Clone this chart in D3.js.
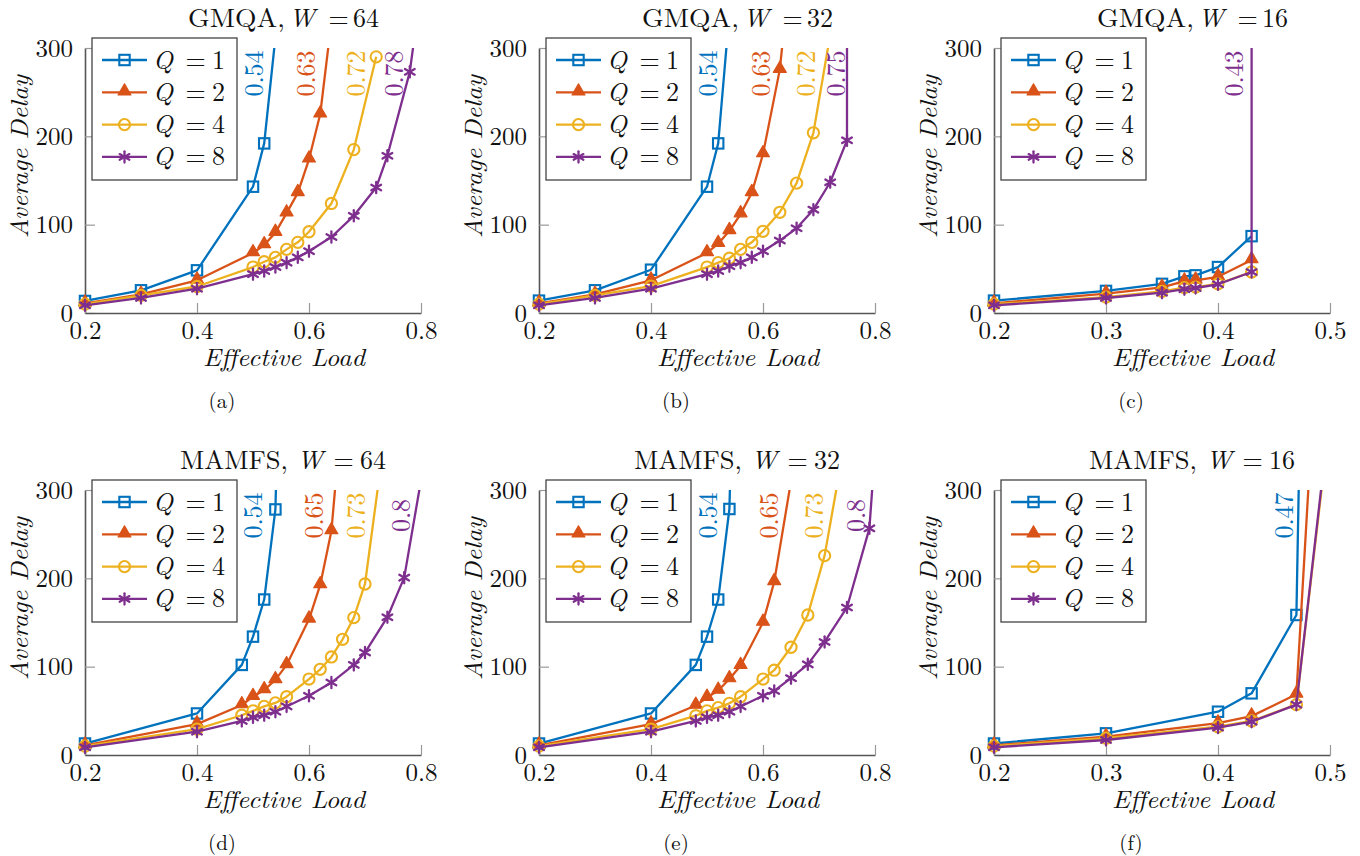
<!DOCTYPE html>
<html><head><meta charset="utf-8">
<script src="https://cdn.jsdelivr.net/npm/d3@7"></script>
<style>body{margin:0;background:#fff}svg{display:block}</style>
</head><body>
<svg id="c" width="1360" height="856"></svg>
<script>
// ---------------- DATA ----------------
const qValues = ["1", "2", "4", "8"];
const yTickValues = [0, 100, 200, 300];
const xTicksWide = [0.2, 0.4, 0.6, 0.8];
const xTicksNarrow = [0.2, 0.3, 0.4, 0.5];

// (a) GMQA, W = 64
const gmqa64_q1 = [[0.2,13.6],[0.3,25.7],[0.4,48.3],[0.5,143],[0.52,192],[0.54,312]];
const gmqa64_q2 = [[0.2,11],[0.3,21],[0.4,37],[0.5,68],[0.52,77],[0.54,91],[0.56,113],[0.58,136],[0.6,174],[0.62,225],[0.64,330]];
const gmqa64_q4 = [[0.2,10],[0.3,20],[0.4,30],[0.5,52],[0.52,58],[0.54,63],[0.56,72],[0.58,80],[0.6,92],[0.64,124],[0.68,185],[0.72,290]];
const gmqa64_q8 = [[0.2,8.7],[0.3,17],[0.4,27.5],[0.5,44],[0.52,47.5],[0.54,52],[0.56,57],[0.58,63],[0.6,70],[0.64,86],[0.68,110],[0.72,142],[0.74,178],[0.78,273],[0.79,320]];
const gmqa64_limits = ["0.54", "0.63", "0.72", "0.78"];
const gmqa64_limitX = [0.518, 0.611, 0.700, 0.768];

// (b) GMQA, W = 32
const gmqa32_q1 = [[0.2,14],[0.3,25.7],[0.4,49],[0.5,143],[0.52,192],[0.54,340]];
const gmqa32_q2 = [[0.2,11],[0.3,21],[0.4,37],[0.5,68],[0.52,78.5],[0.54,93],[0.56,112],[0.58,136],[0.6,180],[0.63,275.5],[0.64,337]];
const gmqa32_q4 = [[0.2,10],[0.3,20],[0.4,30.5],[0.5,52],[0.52,57],[0.54,62],[0.56,72],[0.58,80],[0.6,92.5],[0.63,114],[0.66,147],[0.69,204],[0.72,315]];
const gmqa32_q8 = [[0.2,8.7],[0.3,17],[0.4,27.5],[0.5,44],[0.52,47.5],[0.54,53],[0.56,57],[0.58,63],[0.6,70],[0.63,82],[0.66,96],[0.69,117],[0.72,148],[0.75,195.5],[0.75,400]];
const gmqa32_limits = ["0.54", "0.63", "0.72", "0.75"];
const gmqa32_limitX = [0.518, 0.6125, 0.693, 0.746];

// (c) GMQA, W = 16
const gmqa16_q1 = [[0.2,14],[0.3,25],[0.35,33],[0.37,41.5],[0.38,42.6],[0.4,52],[0.43,87]];
const gmqa16_q2 = [[0.2,11],[0.3,22],[0.35,29],[0.37,36],[0.38,37],[0.4,41],[0.43,60]];
const gmqa16_q4 = [[0.2,10],[0.3,18],[0.35,24.5],[0.37,28.7],[0.38,29.4],[0.4,33],[0.43,46.4]];
const gmqa16_q8 = [[0.2,8.7],[0.3,17],[0.35,23],[0.37,27],[0.38,28.3],[0.4,32.5],[0.43,46.4],[0.43,400]];
const gmqa16_limits = ["", "", "", "0.43"];
const gmqa16_limitX = [0, 0, 0, 0.4223];

// (d) MAMFS, W = 64
const mamfs64_q1 = [[0.2,13],[0.4,47],[0.48,102],[0.5,134],[0.52,176],[0.54,278],[0.545,400]];
const mamfs64_q2 = [[0.2,11],[0.4,35],[0.48,56.6],[0.5,66],[0.52,73.6],[0.54,85],[0.56,102],[0.6,153.6],[0.62,192.5],[0.64,253.6],[0.65,326]];
const mamfs64_q4 = [[0.2,10],[0.4,29.4],[0.48,45],[0.5,50],[0.52,55],[0.54,59],[0.56,66],[0.6,86],[0.62,97],[0.64,111],[0.66,131],[0.68,155.5],[0.7,193.6],[0.73,336]];
const mamfs64_q8 = [[0.2,8.7],[0.4,26.4],[0.48,38.5],[0.5,42.6],[0.52,45],[0.54,49],[0.56,55],[0.6,67],[0.64,82],[0.68,102],[0.7,116],[0.74,156],[0.77,200.8],[0.8,311]];
const mamfs64_limits = ["0.54", "0.65", "0.73", "0.8"];
const mamfs64_limitX = [0.516, 0.625, 0.700, 0.780];

// (e) MAMFS, W = 32
const mamfs32_q1 = [[0.2,13],[0.4,47],[0.48,102],[0.5,134],[0.52,176],[0.54,278.5],[0.545,400]];
const mamfs32_q2 = [[0.2,11],[0.4,35],[0.48,56],[0.5,65],[0.52,73],[0.54,86],[0.56,101],[0.6,150],[0.62,196],[0.65,310]];
const mamfs32_q4 = [[0.2,10],[0.4,29.4],[0.48,44.5],[0.5,50],[0.52,53.6],[0.54,58.5],[0.56,66],[0.6,86],[0.62,96],[0.65,122],[0.68,158.5],[0.71,225.7],[0.735,315]];
const mamfs32_q8 = [[0.2,8.7],[0.4,26.4],[0.48,38.5],[0.5,42.6],[0.52,45],[0.54,49],[0.56,55],[0.6,67],[0.62,72.5],[0.65,87],[0.68,102.6],[0.71,128],[0.75,167],[0.79,256.6],[0.8,345]];
const mamfs32_limits = ["0.54", "0.65", "0.73", "0.8"];
const mamfs32_limitX = [0.518, 0.627, 0.707, 0.782];

// (f) MAMFS, W = 16
const mamfs16_q1 = [[0.2,13],[0.3,24.5],[0.4,49],[0.43,69.8],[0.47,158.5],[0.4735,400]];
const mamfs16_q2 = [[0.2,11],[0.3,20.8],[0.4,36],[0.43,44],[0.47,68.7],[0.482,330]];
const mamfs16_q4 = [[0.2,10],[0.3,19],[0.4,32],[0.43,38.5],[0.47,57],[0.4952,330]];
const mamfs16_q8 = [[0.2,8.7],[0.3,17],[0.4,31],[0.43,37.7],[0.47,57],[0.4947,330]];
const mamfs16_limits = ["0.47", "", "", ""];
const mamfs16_limitX = [0.4667, 0, 0, 0];

// ---------------- LAYOUT / STYLE ----------------
const colors = ["#0072BD", "#D95319", "#EDB120", "#7E2F8E"];
const markerTypes = ["square", "triangle", "circle", "asterisk"];
const FONT = "Latin Modern Roman";
const colLeft = [85, 539, 994];
const rowTop = [48, 490];
const PW = 336, PH = 265;
const LW = 2.3;

const panels = [
  {algo: "GMQA", w: "64", cap: "(a)", r: 0, c: 0, xmax: 0.8, xt: xTicksWide, s: [gmqa64_q1, gmqa64_q2, gmqa64_q4, gmqa64_q8], lab: gmqa64_limits, labX: gmqa64_limitX},
  {algo: "GMQA", w: "32", cap: "(b)", r: 0, c: 1, xmax: 0.8, xt: xTicksWide, s: [gmqa32_q1, gmqa32_q2, gmqa32_q4, gmqa32_q8], lab: gmqa32_limits, labX: gmqa32_limitX},
  {algo: "GMQA", w: "16", cap: "(c)", r: 0, c: 2, xmax: 0.5, xt: xTicksNarrow, s: [gmqa16_q1, gmqa16_q2, gmqa16_q4, gmqa16_q8], lab: gmqa16_limits, labX: gmqa16_limitX},
  {algo: "MAMFS", w: "64", cap: "(d)", r: 1, c: 0, xmax: 0.8, xt: xTicksWide, s: [mamfs64_q1, mamfs64_q2, mamfs64_q4, mamfs64_q8], lab: mamfs64_limits, labX: mamfs64_limitX},
  {algo: "MAMFS", w: "32", cap: "(e)", r: 1, c: 1, xmax: 0.8, xt: xTicksWide, s: [mamfs32_q1, mamfs32_q2, mamfs32_q4, mamfs32_q8], lab: mamfs32_limits, labX: mamfs32_limitX},
  {algo: "MAMFS", w: "16", cap: "(f)", r: 1, c: 2, xmax: 0.5, xt: xTicksNarrow, s: [mamfs16_q1, mamfs16_q2, mamfs16_q4, mamfs16_q8], lab: mamfs16_limits, labX: mamfs16_limitX}
];

const svg = d3.select("#c");
svg.append("rect").attr("width", 1360).attr("height", 856).attr("fill", "#fff");

function txt(sel, size, italic) {
  return sel.style("font-family", FONT).style("font-size", size + "px")
    .style("font-style", italic ? "italic" : "normal").attr("fill", "#111");
}

function drawMarker(g, type, color, x, y) {
  if (type === "square") {
    g.append("rect").attr("x", x - 5.2).attr("y", y - 5.2).attr("width", 10.4).attr("height", 10.4)
      .attr("fill", "none").attr("stroke", color).attr("stroke-width", 2.1);
  } else if (type === "triangle") {
    g.append("path").attr("d", d3.symbol(d3.symbolTriangle, 72)())
      .attr("transform", `translate(${x},${y - 1})`)
      .attr("fill", color).attr("stroke", color).attr("stroke-width", 1.2).attr("stroke-linejoin", "round");
  } else if (type === "circle") {
    g.append("circle").attr("cx", x).attr("cy", y).attr("r", 5.6)
      .attr("fill", "none").attr("stroke", color).attr("stroke-width", 2.1);
  } else {
    const r = 5.6;
    [90, 30, 150].forEach(a => {
      const rad = a * Math.PI / 180;
      g.append("line")
        .attr("x1", x - r * Math.cos(rad)).attr("y1", y - r * Math.sin(rad))
        .attr("x2", x + r * Math.cos(rad)).attr("y2", y + r * Math.sin(rad))
        .attr("stroke", color).attr("stroke-width", 2.3).attr("stroke-linecap", "round");
    });
  }
}

panels.forEach((p, pi) => {
  const L = colLeft[p.c], T = rowTop[p.r], B = T + PH;
  const x = d3.scaleLinear().domain([0.2, p.xmax]).range([L, L + PW]);
  const y = d3.scaleLinear().domain([0, 300]).range([B, T]);
  const g = svg.append("g");

  // axes
  const ya = g.append("g").attr("transform", `translate(${L},0)`)
    .call(d3.axisLeft(y).tickValues(yTickValues).tickSize(-10).tickSizeOuter(0).tickPadding(12).tickFormat(d3.format("d")));
  const xa = g.append("g").attr("transform", `translate(0,${B})`)
    .call(d3.axisBottom(x).tickValues(p.xt).tickSize(-10).tickSizeOuter(0).tickPadding(8).tickFormat(d => d3.format(".1f")(d)));
  [ya, xa].forEach(a => {
    a.attr("font-family", null).attr("font-size", null);
    a.select(".domain").attr("stroke", "#555").attr("stroke-width", 1.6);
    a.selectAll(".tick line").attr("stroke", "#999").attr("stroke-width", 1.2);
    txt(a.selectAll(".tick text"), 25, false);
  });

  // clip
  const cid = "clip" + pi;
  svg.append("clipPath").attr("id", cid).append("rect")
    .attr("x", L - 20).attr("y", T).attr("width", PW + 40).attr("height", PH + 20);
  const pg = g.append("g").attr("clip-path", `url(#${cid})`);

  const line = d3.line().x(d => x(d[0])).y(d => y(d[1]));
  p.s.forEach((ser, si) => {
    pg.append("path").datum(ser).attr("d", line)
      .attr("fill", "none").attr("stroke", colors[si]).attr("stroke-width", LW).attr("stroke-linejoin", "round");
    ser.forEach(d => drawMarker(pg, markerTypes[si], colors[si], x(d[0]), y(d[1])));
  });

  // asymptote labels
  p.lab.forEach((t, i) => {
    if (!t) return;
    const lx = x(p.labX[i]), ly = T + 25.5;
    txt(g.append("text").attr("transform", `translate(${lx},${ly}) rotate(-90)`)
      .attr("text-anchor", "middle"), 26, false).attr("fill", colors[i]).text(t);
  });

  // legend
  const lgx = L + 7, lgy = T - 10;
  const lg = g.append("g");
  lg.append("rect").attr("x", lgx).attr("y", lgy).attr("width", 145).attr("height", 142)
    .attr("fill", "#fff").attr("stroke", "#444").attr("stroke-width", 1.3);
  qValues.forEach((q, i) => {
    const ey = lgy + 22 + i * 32.3;
    lg.append("line").attr("x1", lgx + 10).attr("x2", lgx + 55).attr("y1", ey).attr("y2", ey)
      .attr("stroke", colors[i]).attr("stroke-width", LW);
    drawMarker(lg, markerTypes[i], colors[i], lgx + 32.5, ey);
    const t = txt(lg.append("text").attr("y", ey + 8.5), 26, false);
    t.append("tspan").attr("x", lgx + 61).style("font-style", "italic").text("Q");
    t.append("tspan").attr("x", lgx + 93.5).text("=");
    t.append("tspan").attr("x", lgx + 120).text(q);
  });

  // title
  const tb = T - 21;
  const isG = p.algo === "GMQA";
  const tt = txt(g.append("text").attr("y", tb), 26, false);
  tt.append("tspan").attr("x", L + (isG ? 103 : 95))
    .attr("textLength", isG ? 97 : 108).attr("lengthAdjust", "spacingAndGlyphs").text(p.algo + ",");
  tt.append("tspan").attr("x", L + (isG ? 204 : 212)).style("font-style", "italic").text("W");
  tt.append("tspan").attr("x", L + (isG ? 243.5 : 248.5)).text("=");
  tt.append("tspan").attr("x", L + (isG ? 268 : 275)).text(p.w);

  // axis labels
  txt(g.append("text").attr("x", L + 199).attr("y", B + 53).attr("text-anchor", "middle")
    .attr("textLength", 162).attr("lengthAdjust", "spacingAndGlyphs"), 25, true).text("Effective Load");
  txt(g.append("text").attr("transform", `translate(${L - 57},${T + 108.5}) rotate(-90)`).attr("text-anchor", "middle")
    .attr("textLength", 163).attr("lengthAdjust", "spacingAndGlyphs"), 25, true).text("Average Delay");

  // sub caption
  txt(g.append("text").attr("x", L + 137).attr("y", B + 95).attr("text-anchor", "middle"), 21, false).text(p.cap);
});
</script>
</body></html>
